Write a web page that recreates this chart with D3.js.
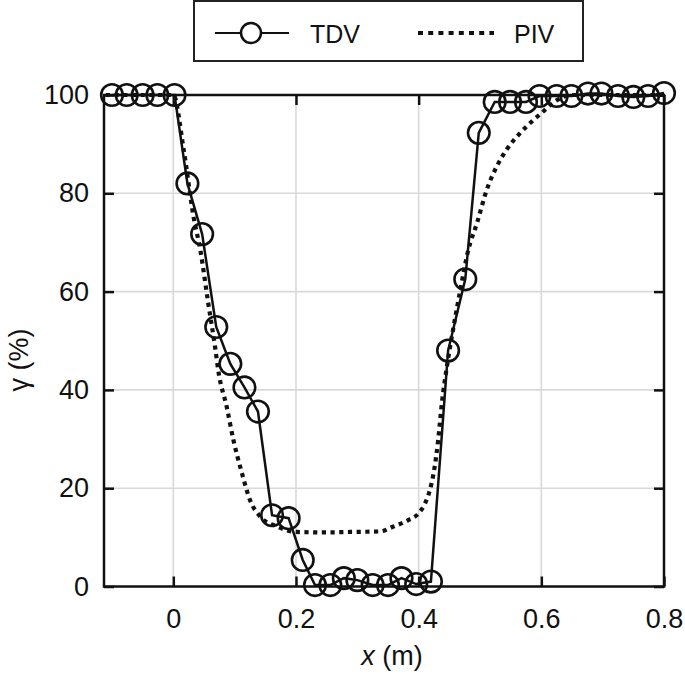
<!DOCTYPE html>
<html>
<head>
<meta charset="utf-8">
<script src="https://cdn.jsdelivr.net/npm/d3@7"></script>
<style>
  html, body { margin: 0; padding: 0; background: #fff; }
  svg { display: block; font-family: "Liberation Sans", Arial, Helvetica, sans-serif; }
</style>
</head>
<body>
<svg id="chart" width="685" height="676"></svg>
<script>
// TDV measurements
const tdvX = [-0.1, -0.076, -0.05, -0.026, 0.002, 0.023, 0.047, 0.07, 0.093, 0.116, 0.138, 0.161, 0.188, 0.211,
  0.231, 0.256, 0.278, 0.3, 0.325, 0.35, 0.372, 0.396, 0.42, 0.448, 0.476, 0.498, 0.524, 0.549, 0.575,
  0.597, 0.625, 0.649, 0.676, 0.698, 0.725, 0.75, 0.774, 0.8];
const tdvY = [100, 100, 100, 100, 100, 82, 71.7, 52.8, 45.3, 40.5, 35.6, 14.5, 13.9, 5.4,
  0.3, 0.3, 1.7, 1.3, 0.3, 0.3, 1.7, 0.5, 1.0, 48, 62.5, 92.3, 98.6, 98.6, 98.6,
  99.8, 99.8, 99.8, 100.3, 100.3, 99.8, 99.6, 99.8, 100.4];
// PIV profile
const pivX = [-0.11, -0.05, 0.0, 0.017, 0.033, 0.044, 0.057, 0.068, 0.074, 0.087, 0.098, 0.112, 0.125, 0.142,
  0.169, 0.201, 0.25, 0.288, 0.337, 0.359, 0.383, 0.4, 0.41, 0.418, 0.425, 0.432, 0.438, 0.446, 0.457,
  0.467, 0.481, 0.495, 0.511, 0.527, 0.543, 0.565, 0.587, 0.6, 0.62, 0.65, 0.7, 0.8];
const pivY = [100, 100, 100, 88.8, 75.2, 68.5, 57.6, 48.8, 43.4, 36.6, 29.8, 23, 17.6, 14.2,
  12.2, 11.1, 11.0, 11.1, 11.2, 12.2, 13.5, 14.9, 16.8, 19.5, 23.5, 30, 37.5, 44.7, 52.9,
  59.7, 68.5, 73.9, 80.7, 85.4, 88.8, 92.2, 94.9, 96.3, 98.5, 100, 100, 100];
const xTicks = [0, 0.2, 0.4, 0.6, 0.8];
const yTicks = [0, 20, 40, 60, 80, 100];
const xTickLabels = ["0", "0.2", "0.4", "0.6", "0.8"];
const yTickLabels = ["0", "20", "40", "60", "80", "100"];
const seriesNames = ["TDV", "PIV"];

const svg = d3.select("#chart");
const L = 104, R = 664, T = 95, B = 586.5;
const x = d3.scaleLinear().domain([-0.113, 0.8]).range([L, R]);
const y = d3.scaleLinear().domain([0, 100]).range([B, T]);

// grid
const grid = svg.append("g").attr("stroke", "#d9d9d9").attr("stroke-width", 1.6);
grid.selectAll("line.v").data(xTicks.slice(0, -1)).join("line")
  .attr("x1", d => x(d)).attr("x2", d => x(d)).attr("y1", T).attr("y2", B);
grid.selectAll("line.h").data(yTicks.slice(1, -1)).join("line")
  .attr("x1", L).attr("x2", R).attr("y1", d => y(d)).attr("y2", d => y(d));

// PIV dotted
const piv = pivX.map((d, i) => [d, pivY[i]]);
svg.append("path").datum(piv)
  .attr("fill", "none").attr("stroke", "#111").attr("stroke-width", 4.2)
  .attr("stroke-dasharray", "4.2,4.5")
  .attr("d", d3.line().x(d => x(d[0])).y(d => y(d[1])).curve(d3.curveMonotoneX));

// TDV line + markers
const tdv = tdvX.map((d, i) => [d, tdvY[i]]);
svg.append("path").datum(tdv)
  .attr("fill", "none").attr("stroke", "#111").attr("stroke-width", 2.5)
  .attr("d", d3.line().x(d => x(d[0])).y(d => y(d[1])));
svg.append("g").selectAll("circle").data(tdv).join("circle")
  .attr("cx", d => x(d[0])).attr("cy", d => y(d[1])).attr("r", 10.8)
  .attr("fill", "none").attr("stroke", "#111").attr("stroke-width", 2.6);

// axes
const fontSize = 27;
const styleAxis = g => {
  g.select(".domain").remove();
  g.selectAll(".tick line").attr("stroke", "#111").attr("stroke-width", 2.5);
  g.selectAll(".tick text").attr("fill", "#111").style("font-size", fontSize + "px")
    .style("font-family", "'Liberation Sans', Arial, Helvetica, sans-serif");
};
svg.append("g").attr("transform", `translate(0,${B})`)
  .call(d3.axisBottom(x).tickValues(xTicks).tickFormat((d, i) => xTickLabels[i]).tickSize(-10).tickPadding(22))
  .call(styleAxis);
svg.append("g").attr("transform", `translate(0,${T})`)
  .call(d3.axisTop(x).tickValues(xTicks).tickFormat("").tickSize(-10))
  .call(styleAxis);
svg.append("g").attr("transform", `translate(${L},0)`)
  .call(d3.axisLeft(y).tickValues(yTicks).tickFormat((d, i) => yTickLabels[i]).tickSize(-10).tickPadding(15))
  .call(styleAxis);
svg.append("g").attr("transform", `translate(${R},0)`)
  .call(d3.axisRight(y).tickValues(yTicks).tickFormat("").tickSize(-10))
  .call(styleAxis);

svg.append("rect").attr("x", L).attr("y", T).attr("width", R - L).attr("height", B - T)
  .attr("fill", "none").attr("stroke", "#111").attr("stroke-width", 2.5);

// axis labels
const xl = svg.append("text").attr("x", 392).attr("y", 665).attr("text-anchor", "middle")
  .attr("fill", "#111").style("font-size", fontSize + "px");
xl.append("tspan").attr("font-style", "italic").text("x");
xl.append("tspan").text(" (m)");

svg.append("text").attr("transform", "translate(28,360) rotate(-90)")
  .attr("text-anchor", "middle").attr("fill", "#111").style("font-size", fontSize + "px")
  .text("γ (%)");

// legend
const lg = svg.append("g");
lg.append("rect").attr("x", 194).attr("y", 1).attr("width", 389).attr("height", 60)
  .attr("fill", "#fff").attr("stroke", "#222").attr("stroke-width", 2);
lg.append("line").attr("x1", 215).attr("x2", 289).attr("y1", 33).attr("y2", 33)
  .attr("stroke", "#111").attr("stroke-width", 2);
lg.append("circle").attr("cx", 251).attr("cy", 33).attr("r", 10)
  .attr("fill", "#fff").attr("stroke", "#111").attr("stroke-width", 2.5);
lg.append("text").attr("x", 310).attr("y", 43).attr("fill", "#111").style("font-size", "25px").text(seriesNames[0]);
lg.append("line").attr("x1", 418).attr("x2", 494).attr("y1", 33).attr("y2", 33)
  .attr("stroke", "#111").attr("stroke-width", 4).attr("stroke-dasharray", "5,5.2");
lg.append("text").attr("x", 514).attr("y", 43).attr("fill", "#111").style("font-size", "25px").text(seriesNames[1]);
</script>
</body>
</html>
